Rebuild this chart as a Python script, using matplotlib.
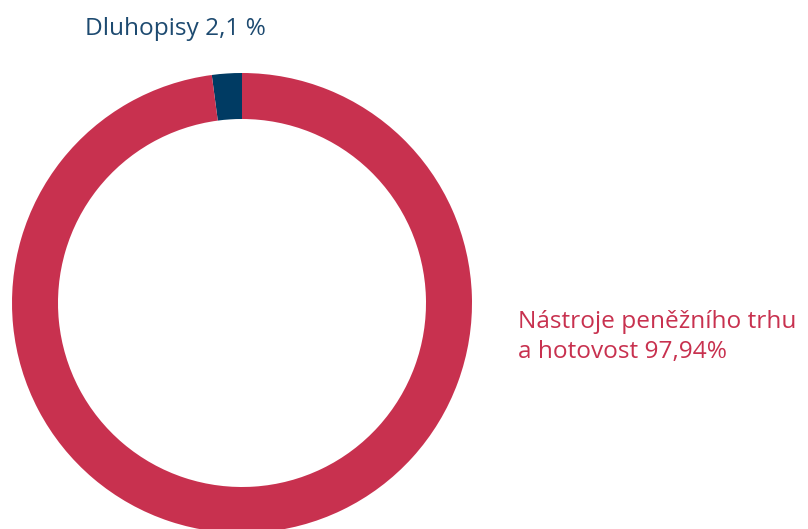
import matplotlib
matplotlib.use("Agg")
import matplotlib.pyplot as plt

labels = ["Dluhopisy 2,1 %", "Nástroje peněžního trhu", "a hotovost 97,94%"]
values = [2.1, 97.94]
colors = ["#003B63", "#C8314F"]
text_colors = ["#1D4A70", "#C8314F"]

W, H = 808, 529
fig = plt.figure(figsize=(W / 100, H / 100), dpi=100)
ax = fig.add_axes([0, 0, 1, 1])
ax.pie(values, colors=colors, startangle=90, counterclock=True,
       center=(242, H - 303), radius=230,
       wedgeprops=dict(width=46, linewidth=0))
ax.set_xlim(0, W)
ax.set_ylim(0, H)
ax.set_aspect("equal")
ax.axis("off")

fs = 17.6
ax.text(85, H - 35, labels[0], color=text_colors[0], fontsize=fs,
        family="Open Sans", ha="left", va="baseline")
ax.text(518, H - 328, labels[1], color=text_colors[1], fontsize=fs,
        family="Open Sans", ha="left", va="baseline")
ax.text(518, H - 358, labels[2], color=text_colors[1], fontsize=fs,
        family="Open Sans", ha="left", va="baseline")

fig.savefig("out.png", dpi=100)
